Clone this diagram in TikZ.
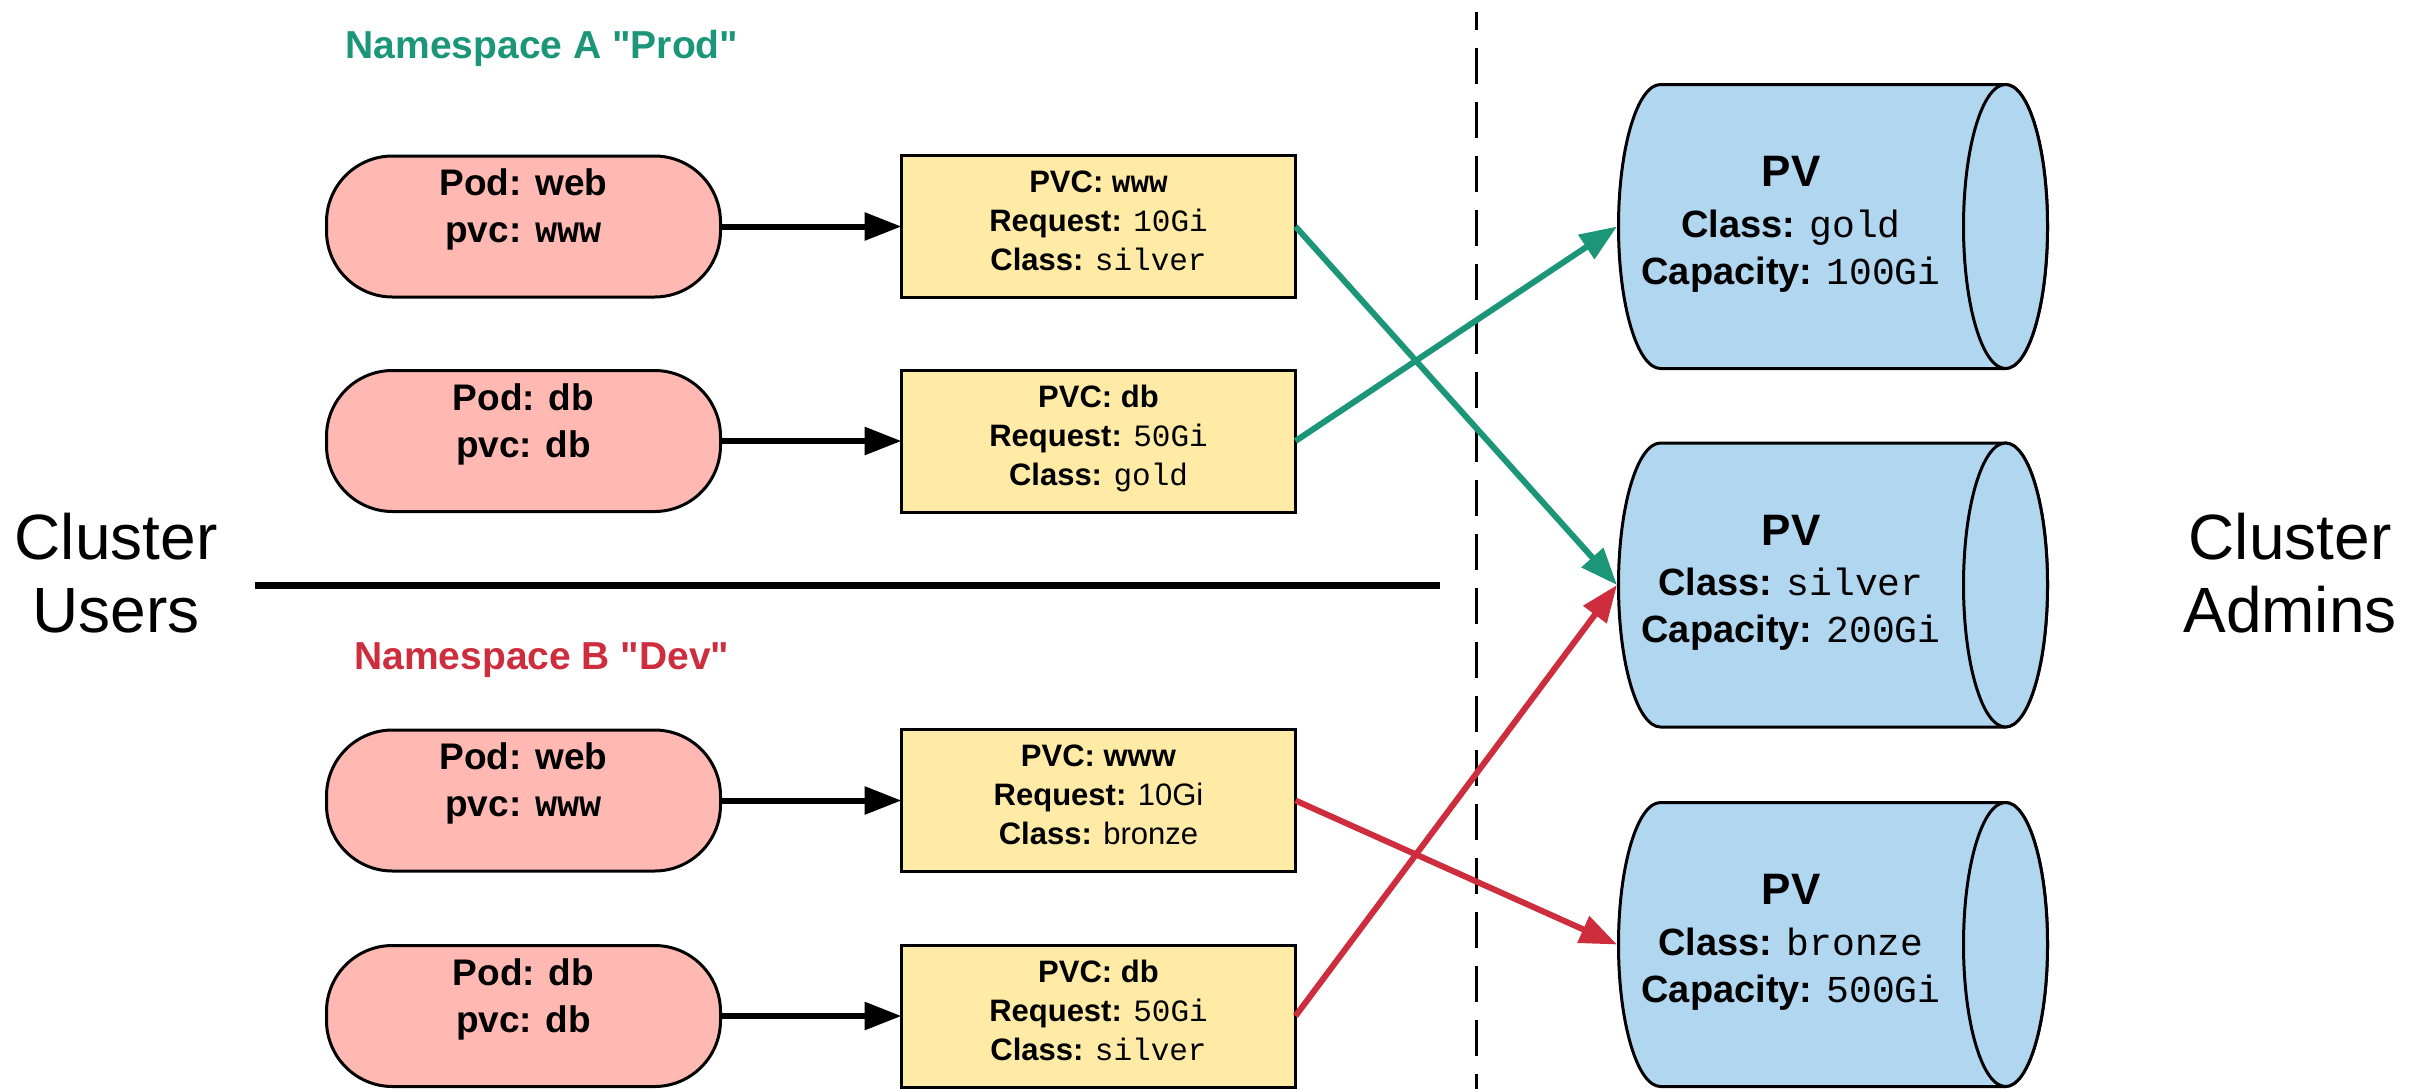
\documentclass[tikz,border=0pt]{standalone}
\usepackage{fontspec}
\setmainfont{Liberation Sans}
\setmonofont{Liberation Mono}
\usetikzlibrary{arrows.meta}
\definecolor{podfill}{RGB}{255,185,178}
\definecolor{pvcfill}{RGB}{255,235,165}
\definecolor{pvfill}{RGB}{177,214,239}
\definecolor{prodgreen}{RGB}{27,150,120}
\definecolor{devred}{RGB}{205,45,60}
\tikzset{
  podshape/.style={draw=black, line width=3pt, fill=podfill, rounded corners=66pt, minimum width=394pt, minimum height=141pt, inner sep=0pt, outer sep=0pt},
  pvcshape/.style={draw=black, line width=3pt, fill=pvcfill, minimum width=394pt, minimum height=142pt, inner sep=0pt, outer sep=0pt},
  podtext/.style={anchor=north, inner sep=0pt, align=center, font=\fontsize{37}{47}\selectfont\bfseries},
  pvctext/.style={anchor=north, inner sep=0pt, align=center, font=\fontsize{31}{39}\selectfont},
  pvtitle/.style={anchor=base, inner sep=0pt, font=\fontsize{44}{52}\selectfont\bfseries},
  pvtext/.style={anchor=north, inner sep=0pt, align=center, font=\fontsize{38}{47}\selectfont},
  nstitle/.style={anchor=base, inner sep=0pt, font=\fontsize{39}{46}\selectfont\bfseries},
  sidetext/.style={anchor=north, inner sep=0pt, align=center, font=\fontsize{64}{73}\selectfont},
  cylbody/.style={draw=black, line width=3pt, fill=pvfill},
  blackarrow/.style={draw=black, line width=6pt, -{Triangle[length=37pt,width=27pt]}},
  greenarrow/.style={draw=prodgreen, line width=6pt, -{Triangle[length=37pt,width=28pt]}},
  redarrow/.style={draw=devred, line width=6pt, -{Triangle[length=37pt,width=28pt]}},
  sepline/.style={draw=black, line width=7pt},
  dashline/.style={draw=black, line width=3pt, dash pattern=on 36pt off 18pt, dash phase=18pt}
}
\newcommand{\drawpv}[1]{%
  \draw[cylbody] (1660.5,{#1-142}) arc[start angle=90,end angle=270,x radius=42pt,y radius=142pt] -- (2005.5,{#1+142}) arc[start angle=-90,end angle=90,x radius=42pt,y radius=142pt] -- cycle;
  \draw[cylbody] (2005.5,#1) ellipse[x radius=42pt,y radius=142pt];
}
\begin{document}
\begin{tikzpicture}[x=1pt,y=-1pt]
\useasboundingbox (0,0) rectangle (2428,1088);

% separators
\coordinate (sepL) at (255,585);
\coordinate (sepR) at (1440,585);
\draw[sepline] (sepL) -- (sepR);
\coordinate (dashT) at (1476,12);
\coordinate (dashB) at (1476,1090);
\draw[dashline] (dashT) -- (dashB);

% side labels
\node[sidetext] (users) at (116,513) {Cluster\\Users};
\node[sidetext] (admins) at (2290,513) {Cluster\\Admins};

% namespace titles
\node[nstitle, text=prodgreen] (nsA) at (542,58) {Namespace A \textquotedbl Prod\textquotedbl};
\node[nstitle, text=devred] (nsB) at (542,669) {Namespace B \textquotedbl Dev\textquotedbl};

% pods
\node[podshape] (podA1) at (523.5,226.5) {};
\node[podshape] (podA2) at (523.5,441) {};
\node[podshape] (podB1) at (523.5,800.5) {};
\node[podshape] (podB2) at (523.5,1016) {};
\node[podtext] (podA1t) at (523.5,168) {Pod: web\\pvc: {\ttfamily www}};
\node[podtext] (podA2t) at (523.5,383) {Pod: db\\pvc: db};
\node[podtext] (podB1t) at (523.5,742) {Pod: web\\pvc: {\ttfamily www}};
\node[podtext] (podB2t) at (523.5,958) {Pod: db\\pvc: db};

% PVCs
\node[pvcshape] (pvcA1) at (1098.5,226.5) {};
\node[pvcshape] (pvcA2) at (1098.5,441) {};
\node[pvcshape] (pvcB1) at (1098.5,800.5) {};
\node[pvcshape] (pvcB2) at (1098.5,1016) {};
\node[pvctext] (pvcA1t) at (1098.5,171) {\textbf{PVC:} {\ttfamily\bfseries www}\\\textbf{Request:} {\ttfamily 10Gi}\\\textbf{Class:} {\ttfamily silver}};
\node[pvctext] (pvcA2t) at (1098.5,385) {\textbf{PVC: db}\\\textbf{Request:} {\ttfamily 50Gi}\\\textbf{Class:} {\ttfamily gold}};
\node[pvctext] (pvcB1t) at (1098.5,745) {\textbf{PVC: www}\\\textbf{Request:} 10Gi\\\textbf{Class:} bronze};
\node[pvctext] (pvcB2t) at (1098.5,960) {\textbf{PVC: db}\\\textbf{Request:} {\ttfamily 50Gi}\\\textbf{Class:} {\ttfamily silver}};

% PVs
\drawpv{226.5}
\drawpv{585}
\drawpv{944.5}
\coordinate (pv1w) at (1617,226.5);
\coordinate (pv2w) at (1617,585);
\coordinate (pv3w) at (1617,944.5);
\node[pvtitle] (pv1) at (1791,186.5) {PV};
\node[pvtitle] (pv2) at (1791,545) {PV};
\node[pvtitle] (pv3) at (1791,904.5) {PV};
\node[pvtext] (pv1t) at (1791,210) {\textbf{Class:} {\ttfamily gold}\\\textbf{Capacity:} {\ttfamily 100Gi}};
\node[pvtext] (pv2t) at (1791,568) {\textbf{Class:} {\ttfamily silver}\\\textbf{Capacity:} {\ttfamily 200Gi}};
\node[pvtext] (pv3t) at (1791,928) {\textbf{Class:} {\ttfamily bronze}\\\textbf{Capacity:} {\ttfamily 500Gi}};

% arrows
\draw[blackarrow] (podA1.east) -- (pvcA1.west);
\draw[blackarrow] (podA2.east) -- (pvcA2.west);
\draw[blackarrow] (podB1.east) -- (pvcB1.west);
\draw[blackarrow] (podB2.east) -- (pvcB2.west);
\draw[greenarrow] (pvcA1.east) -- (pv2w);
\draw[greenarrow] (pvcA2.east) -- (pv1w);
\draw[redarrow] (pvcB1.east) -- (pv3w);
\draw[redarrow] (pvcB2.east) -- (pv2w);
\end{tikzpicture}
\end{document}
